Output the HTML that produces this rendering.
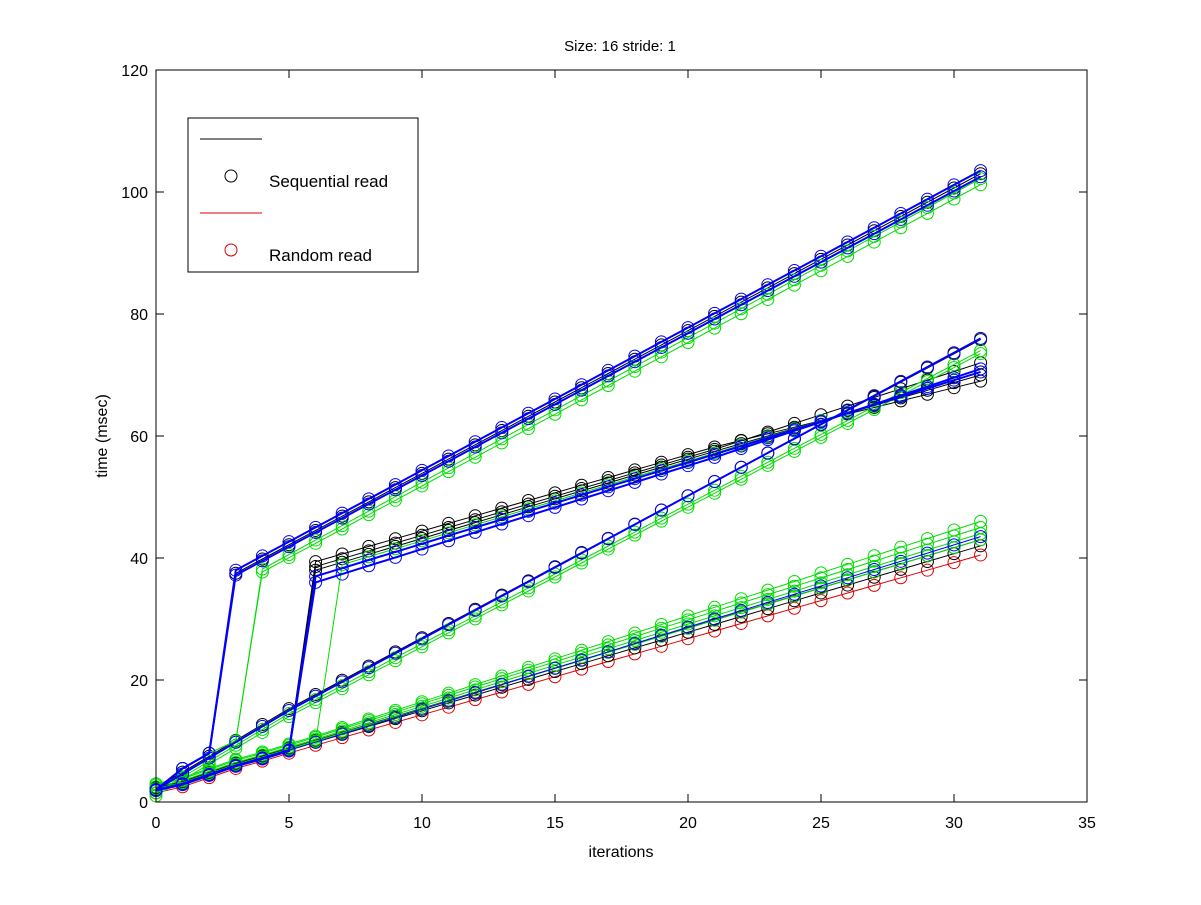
<!DOCTYPE html>
<html><head><meta charset="utf-8"><style>
html,body{margin:0;padding:0;background:#fff;}
svg text{font-family:"Liberation Sans",sans-serif;fill:#000;}
</style></head><body>
<svg id="s" width="1201" height="900" xmlns="http://www.w3.org/2000/svg">
<rect x="0" y="0" width="1201" height="900" fill="#fff"/>
<g id="data"></g>
<rect x="156" y="70" width="931" height="732" fill="none" stroke="#000" stroke-width="1"/>
<g id="ticks" stroke="#000" stroke-width="1"></g>
<g id="labels" font-size="16"></g>
<text x="620" y="51" font-size="15" text-anchor="middle">Size: 16 stride: 1</text>
<text x="621" y="857" font-size="16" text-anchor="middle">iterations</text>
<text transform="translate(107,436) rotate(-90)" font-size="16" text-anchor="middle">time (msec)</text>
<rect x="188" y="118" width="230" height="154" fill="#fff" stroke="#000"/>
<line x1="200" y1="139" x2="262" y2="139" stroke="#000"/>
<circle cx="231" cy="176" r="6" fill="none" stroke="#000"/>
<text x="269" y="187" font-size="17">Sequential read</text>
<line x1="200" y1="213" x2="262" y2="213" stroke="#d00"/>
<circle cx="231" cy="250" r="6" fill="none" stroke="#d00"/>
<text x="269" y="261" font-size="17">Random read</text>
</svg>
<script>
var X=function(v){return 156+v*931/35},Y=function(v){return 802-v*732/120};
var t=document.getElementById('ticks'),l=document.getElementById('labels'),ns='http://www.w3.org/2000/svg';
function el(p,n,a){var e=document.createElementNS(ns,n);for(var k in a)e.setAttribute(k,a[k]);p.appendChild(e);return e;}
for(var i=0;i<=35;i+=5){var x=X(i);el(t,'line',{x1:x,y1:802,x2:x,y2:794});el(t,'line',{x1:x,y1:70,x2:x,y2:78});
 var tx=el(l,'text',{x:x,y:828,'text-anchor':'middle'});tx.textContent=i;}
for(var v=0;v<=120;v+=20){var y=Y(v);el(t,'line',{x1:156,y1:y,x2:164,y2:y});el(t,'line',{x1:1087,y1:y,x2:1079,y2:y});
 var ty=el(l,'text',{x:148,y:y+6,'text-anchor':'end'});ty.textContent=v;}
var d=document.getElementById('data');
var queue=[];
function series(f,col,w){queue.push([f,col,w]);}
function flush(){var order={'#d00':0,'#000':1,'#0d0':2,'#00f':3};
 queue.sort(function(a,b){return order[a[1]]-order[b[1]];});
 queue.forEach(function(q){var f=q[0],col=q[1],w=q[2];var pts=[];for(var i=0;i<=31;i++)pts.push(X(i).toFixed(1)+','+Y(f(i)).toFixed(1));
 el(d,'polyline',{points:pts.join(' '),fill:'none',stroke:col,'stroke-width':w||1});
 for(var i=0;i<=31;i++)el(d,'circle',{cx:X(i),cy:Y(f(i)),r:6,fill:'none',stroke:col,'stroke-width':1});});}
var low=[2,3,4.5,6,7.2,8.5,9.8];
function lowf(i,o){return low[i]+(o||0);}
function A(jump,off,end){return function(i){if(i<jump){return i==0?2:(i==1?5.5:(i==2?8:10));}
 return 37.5+(jump==4?1:0)+(i-jump)*( (end-37.5-(jump==4?1:0))/(31-jump))+off;};}
[['#000',0,103],['#00f',0.5,103],['#00f',-0.3,102.8],['#0d0',-0.8,102],['#0d0',-0.3,102.5]].forEach(function(s,k){
 var j=s[0]=='#0d0'?4:3;series(A(j,s[1],s[2]),s[0],s[0]=='#00f'?2:1);});
function C(off,end){return function(i){if(i<=5)return 2+i*2.6+off;return 15+(i-5)*(end-15)/26+off;};}
[['#00f',0,76],['#0d0',-0.5,74.5],['#0d0',-1,74.5],['#000',0.3,75.5]].forEach(function(s){series(C(s[1],s[2]),s[0],s[0]=='#00f'?2:1);});
function B(j,off,end){return function(i){if(i<j)return lowf(i,off*0.3);var s=37+(j==7?1.5:0)+off;
 if(i<=21)return s+(i-j)*(57-s)/(21-j)+off; return 57+off+(i-21)*(end-57-off)/10;};}
[['#000',0.5,70],['#000',1.2,69],['#00f',0,70.5],['#00f',-0.5,71],['#0d0',0.2,70.5],['#000',0.8,72]].forEach(function(s,k){
 var j=s[0]=='#0d0'?7:6;series(B(j,s[1],s[2]),s[0],s[0]=='#00f'?2:1);});
function D(end,off){return function(i){if(i<=6)return lowf(i,off);return 9.8+off+(i-6)*(end-9.8-off)/25;};}
[['#d00',40.5,-0.5],['#000',42,0],['#000',43,0.3],['#00f',43.5,0],['#0d0',44,0.5],['#0d0',45,0.8],['#0d0',46,1],['#0d0',43,0.2]].forEach(function(s){series(D(s[1],s[2]),s[0],1);});
flush();
</script>
</body></html>
